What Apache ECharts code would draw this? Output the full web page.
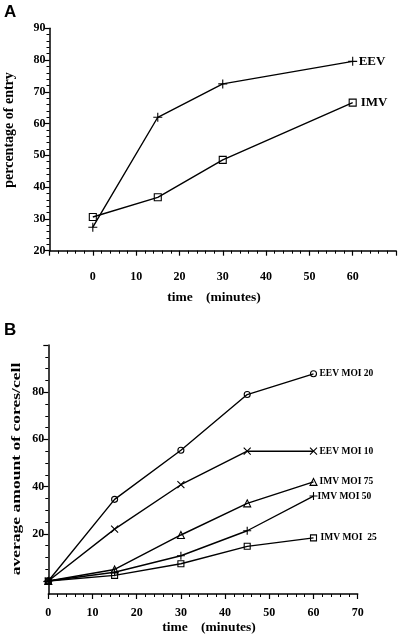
<!DOCTYPE html>
<html>
<head>
<meta charset="utf-8">
<script src="https://cdn.jsdelivr.net/npm/echarts@6/dist/echarts.min.js"></script>
<style>
html,body{margin:0;padding:0;background:#fff;}
#c{width:400px;height:644px;}
</style>
</head>
<body>
<div id="c"></div>
<script>
// Panel A data
const aTime = [0, 15, 30, 60];
const aEEV = [27.4, 62.0, 72.5, 79.6];
const aIMV = [30.6, 36.8, 48.6, 66.6];
const aXTicks = [0, 10, 20, 30, 40, 50, 60];
const aYTicks = [20, 30, 40, 50, 60, 70, 80, 90];

// Panel B data
const bTime = [0, 15, 30, 45, 60];
const bEEV20 = [0, 34.6, 55.4, 79.0, 87.8];
const bEEV10 = [0, 22.0, 40.8, 55.0, 55.0];
const bIMV75 = [0, 4.9, 19.5, 32.9, 42.0];
const bIMV50 = [0, 3.7, 10.7, 21.3, 36.0];
const bIMV25 = [0, 2.4, 7.3, 14.7, 18.3];
const bXTicks = [0, 10, 20, 30, 40, 50, 60, 70];
const bYTicks = [20, 40, 60, 80];

const SERIF = 'Liberation Serif';
const PLUS = 'path://M0,5H10M5,0V10';
const CROSS = 'path://M0,0L10,10M10,0L0,10';

function pairs(xs, ys) { return xs.map((x, i) => [x, ys[i]]); }

const axisLine = { show: true, onZero: false, lineStyle: { color: '#000', width: 1.5 } };
const tickLbl = { color: '#000', fontFamily: SERIF, fontWeight: 'bold', fontSize: 12 };

function mkSeries(name, xs, ys, xi, yi, symbol, size, labelSize, dist) {
  return {
    type: 'line', name: name, xAxisIndex: xi, yAxisIndex: yi,
    data: pairs(xs, ys),
    symbol: symbol, symbolSize: size, showSymbol: true,
    lineStyle: { color: '#000', width: 1.4 },
    itemStyle: { color: 'rgba(0,0,0,0)', borderColor: '#000', borderWidth: 1.1 },
    emphasis: { disabled: true },
    animation: false,
    endLabel: {
      show: true, formatter: '{a}', distance: dist,
      color: '#000', fontFamily: SERIF, fontWeight: 'bold', fontSize: labelSize
    },
    z: 3
  };
}

const chart = echarts.init(document.getElementById('c'), null, { renderer: 'canvas' });

const option = {
  backgroundColor: '#fff',
  animation: false,
  grid: [
    { left: 49.5, top: 28.3, width: 346.5, height: 222.4 },
    { left: 48.3, top: 345, width: 309.4, height: 249 },
    { left: 48.3, top: 345, width: 309.4, height: 236 }
  ],
  xAxis: [
    {
      gridIndex: 0, type: 'value', min: -10, max: 70, interval: 10,
      axisLine: axisLine, splitLine: { show: false },
      axisTick: { show: true, length: 5, lineStyle: { color: '#000', width: 1.2 } },
      minorTick: { show: true, splitNumber: 5, length: 3, lineStyle: { color: '#000', width: 1 } },
      axisLabel: Object.assign({}, tickLbl, {
        margin: 20,
        formatter: v => (aXTicks.indexOf(v) >= 0 ? String(v) : '')
      })
    },
    {
      gridIndex: 1, type: 'value', min: 0, max: 70, interval: 10,
      axisLine: axisLine, splitLine: { show: false },
      axisTick: { show: true, length: 5, lineStyle: { color: '#000', width: 1.2 } },
      minorTick: { show: true, splitNumber: 5, length: 3, lineStyle: { color: '#000', width: 1 } },
      axisLabel: Object.assign({}, tickLbl, {
        margin: 13,
        formatter: v => (bXTicks.indexOf(v) >= 0 ? String(v) : '')
      })
    },
    { gridIndex: 2, type: 'value', min: 0, max: 70, show: false }
  ],
  yAxis: [
    {
      gridIndex: 0, type: 'value', min: 20, max: 90, interval: 10,
      axisLine: axisLine, splitLine: { show: false },
      axisTick: { show: true, length: 5, lineStyle: { color: '#000', width: 1.2 } },
      minorTick: { show: true, splitNumber: 5, length: 3, lineStyle: { color: '#000', width: 1 } },
      axisLabel: Object.assign({}, tickLbl, {
        margin: 4,
        formatter: v => (aYTicks.indexOf(v) >= 0 ? String(v) : '')
      })
    },
    {
      gridIndex: 1, type: 'value', min: -5.5, max: 100,
      axisLine: axisLine, splitLine: { show: false },
      axisTick: { show: false }, axisLabel: { show: false }
    },
    {
      gridIndex: 2, type: 'value', min: 0, max: 100, interval: 20,
      axisLine: { show: false, onZero: false }, splitLine: { show: false },
      axisTick: { show: true, length: 5, lineStyle: { color: '#000', width: 1.2 } },
      minorTick: { show: true, splitNumber: 4, length: 3, lineStyle: { color: '#000', width: 1 } },
      axisLabel: Object.assign({}, tickLbl, {
        margin: 4,
        formatter: v => (bYTicks.indexOf(v) >= 0 ? String(v) : '')
      })
    }
  ],
  series: [
    mkSeries('EEV', aTime, aEEV, 0, 0, PLUS, 9, 13, 6),
    mkSeries('IMV', aTime, aIMV, 0, 0, 'rect', 7, 13, 8),
    mkSeries('EEV MOI 20', bTime, bEEV20, 1, 1, 'circle', 6, 9.5, 6),
    mkSeries('EEV MOI 10', bTime, bEEV10, 1, 1, CROSS, 7, 9.5, 6),
    mkSeries('IMV MOI 75', bTime, bIMV75, 1, 1, 'triangle', 7, 9.5, 6),
    mkSeries('IMV MOI 50', bTime, bIMV50, 1, 1, PLUS, 8, 9.5, 4),
    mkSeries('IMV MOI  25', bTime, bIMV25, 1, 1, 'rect', 6, 9.5, 7)
  ],
  graphic: [
    { type: 'text', left: 4, top: 4, style: { text: 'A', fontFamily: 'Liberation Sans', fontWeight: 'bold', fontSize: 17, fill: '#000' } },
    { type: 'text', left: 4, top: 322, style: { text: 'B', fontFamily: 'Liberation Sans', fontWeight: 'bold', fontSize: 17, fill: '#000' } },
    { type: 'text', x: 9.5, y: 130, rotation: Math.PI / 2,
      style: { text: 'percentage of entry', fontFamily: SERIF, fontWeight: 'bold', fontSize: 14, fill: '#000', align: 'center', verticalAlign: 'middle' } },
    { type: 'text', x: 214, y: 298,
      style: { text: 'time    (minutes)', fontFamily: SERIF, fontWeight: 'bold', fontSize: 13.5, fill: '#000', align: 'center', verticalAlign: 'middle' } },
    { type: 'text', x: 17, y: 469, rotation: Math.PI / 2, scaleX: 1.3,
      style: { text: 'average amount of cores/cell', fontFamily: SERIF, fontWeight: 'bold', fontSize: 13.5, fill: '#000', align: 'center', verticalAlign: 'middle' } },
    { type: 'text', x: 209, y: 628,
      style: { text: 'time    (minutes)', fontFamily: SERIF, fontWeight: 'bold', fontSize: 13.5, fill: '#000', align: 'center', verticalAlign: 'middle' } }
  ]
};
chart.setOption(option);
</script>
</body>
</html>
